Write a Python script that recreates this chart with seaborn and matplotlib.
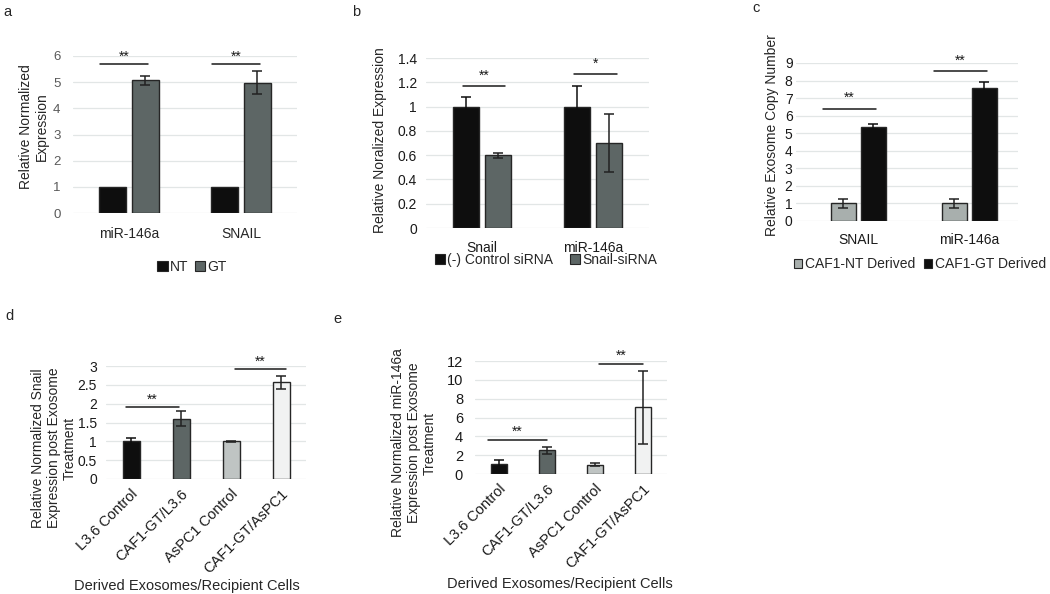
import matplotlib
matplotlib.use("Agg")
import matplotlib.pyplot as plt
import matplotlib.transforms as mtransforms
from matplotlib.patches import Patch
import seaborn as sns
import pandas as pd
import numpy as np

# ---------------- data ----------------
# panel a
a_genes = ["miR-146a", "SNAIL"]
a_groups = ["NT", "GT"]
a_nt = [1.0, 1.0]
a_gt = [5.07, 4.97]
a_nt_err = [0.0, 0.0]
a_gt_err = [0.18, 0.44]
a_sig_y = [5.68, 5.68]
a_sig_txt = ["**", "**"]

# panel b
b_genes = ["Snail", "miR-146a"]
b_groups = ["(-) Control siRNA", "Snail-siRNA"]
b_ctrl = [1.0, 1.0]
b_si = [0.60, 0.70]
b_ctrl_err = [0.08, 0.17]
b_si_err = [0.02, 0.235]
b_sig_y = [1.17, 1.265]
b_sig_txt = ["**", "*"]

# panel c
c_genes = ["SNAIL", "miR-146a"]
c_groups = ["CAF1-NT Derived", "CAF1-GT Derived"]
c_nt = [1.0, 1.0]
c_gt = [5.37, 7.60]
c_nt_err = [0.28, 0.27]
c_gt_err = [0.15, 0.30]
c_sig_y = [6.4, 8.55]
c_sig_txt = ["**", "**"]

# panels d & e
de_cells = ["L3.6 Control", "CAF1-GT/L3.6", "AsPC1 Control", "CAF1-GT/AsPC1"]
d_vals = [1.0, 1.60, 1.0, 2.57]
d_err = [0.08, 0.20, 0.02, 0.17]
d_sig_y = [1.91, 2.91]
e_vals = [1.06, 2.50, 1.0, 7.07]
e_err = [0.40, 0.35, 0.15, 3.90]
e_sig_y = [3.56, 11.65]

# ---------------- style ----------------
W, H = 1050, 594
sns.set_theme(style="white")
plt.rcParams["font.family"] = ["Liberation Sans", "DejaVu Sans"]

BLACK = "#0e0e0e"
DGRAY = "#5d6665"
LGRAY = "#bfc4c3"
VLGRAY = "#f1f2f2"
NTGRAY = "#a8afad"
EDGE = "#262626"
GRID = "#e2e6e6"

fig = plt.figure(figsize=(W / 100, H / 100), dpi=100)


def add_ax(x0, y0, x1, y1):
    return fig.add_axes([x0 / W, 1 - y1 / H, (x1 - x0) / W, (y1 - y0) / H])


def style_ax(ax, ylim, step, tick_color="#1a1a1a", tick_size=9, fmt=None,
             pad=6):
    ax.set_ylim(*ylim)
    ticks = np.arange(ylim[0], ylim[1] + step / 2, step)
    ax.set_yticks(ticks)
    if fmt is not None:
        ax.set_yticklabels([fmt(t) for t in ticks])
    ax.grid(axis="y", color=GRID, linewidth=0.9)
    ax.set_axisbelow(True)
    for s in ax.spines.values():
        s.set_visible(False)
    ax.tick_params(axis="both", length=0)
    ax.tick_params(axis="y", labelsize=tick_size, labelcolor=tick_color, pad=pad)
    ax.set_xlabel("")
    ax.set_ylabel("")


def draw_err(ax, bar, e):
    if e <= 0 or bar.get_height() == 0:
        return
    x = bar.get_x() + bar.get_width() / 2
    fc = bar.get_facecolor()
    dark = sum(fc[:3]) / 3 < 0.15
    col = BLACK if dark else "#222222"
    ax.errorbar(x, bar.get_height(), yerr=e, fmt="none", ecolor=col,
                elinewidth=1.1, capsize=3.5, capthick=1.1, zorder=5)


def add_errs(ax, errs_per_container):
    for cont, errs in zip(ax.containers, errs_per_container):
        for bar, e in zip(cont, errs):
            draw_err(ax, bar, e)


def sig(ax, x0, x1, y, txt, ty, size=10):
    ax.plot([x0, x1], [y, y], color="#1a1a1a", lw=1.1, clip_on=False, zorder=6)
    ax.text((x0 + x1) / 2, ty, txt, ha="center", va="center", fontsize=size,
            color="#1a1a1a", clip_on=False)


def square_legend(ax, labels, colors, cx, cy, colsp=0.8, tp=0.15, hl=0.75):
    handles = [Patch(facecolor=c, edgecolor=EDGE, linewidth=0.8) for c in colors]
    ax.legend(handles, labels, loc="center", bbox_to_anchor=(cx / W, 1 - cy / H),
              bbox_transform=fig.transFigure, ncol=len(labels), frameon=False,
              fontsize=10, handlelength=hl, handleheight=hl,
              handletextpad=tp, columnspacing=colsp, borderpad=0,
              borderaxespad=0)


# ---------------- panel a ----------------
ax = add_ax(73, 56, 297, 213)
df_a = pd.DataFrame({"gene": a_genes * 2,
                     "grp": [a_groups[0]] * 2 + [a_groups[1]] * 2,
                     "val": a_nt + a_gt})
sns.barplot(data=df_a, x="gene", y="val", hue="grp", order=a_genes,
            hue_order=a_groups, palette=[BLACK, DGRAY], saturation=1,
            errorbar=None, width=0.58, gap=0.17, edgecolor=EDGE, linewidth=1,
            legend=False, ax=ax)
ax.set_xlim(-0.5, 1.5)
style_ax(ax, (0, 6), 1, tick_color="#595959", tick_size=9.5, pad=9)
ax.tick_params(axis="x", labelsize=10, pad=10)
add_errs(ax, [a_nt_err, a_gt_err])
for i, (y, t) in enumerate(zip(a_sig_y, a_sig_txt)):
    sig(ax, i - 0.26, i + 0.17, y, t, y + 0.3)
square_legend(ax, a_groups, [BLACK, DGRAY], 192, 267, colsp=0.5)
fig.text(34 / W, 1 - 127 / H, "Relative Normalized\nExpression", rotation=90,
         ha="center", va="center", fontsize=10, linespacing=1.15)
fig.text(3 / W, 1 - 12 / H, "a", fontsize=10.5, ha="left", va="center")

# ---------------- panel b ----------------
ax = add_ax(426, 58, 649, 228)
df_b = pd.DataFrame({"gene": b_genes * 2,
                     "grp": [b_groups[0]] * 2 + [b_groups[1]] * 2,
                     "val": b_ctrl + b_si})
sns.barplot(data=df_b, x="gene", y="val", hue="grp", order=b_genes,
            hue_order=b_groups, palette=[BLACK, DGRAY], saturation=1,
            errorbar=None, width=0.57, gap=0.18, edgecolor=EDGE, linewidth=1,
            legend=False, ax=ax)
ax.set_xlim(-0.5, 1.5)
style_ax(ax, (0, 1.4), 0.2, tick_size=10,
         fmt=lambda t: ("%g" % round(t, 1)), pad=6.5)
ax.tick_params(axis="x", labelsize=10, pad=9, labelcolor="#1a1a1a")
add_errs(ax, [b_ctrl_err, b_si_err])
for i, (y, t) in enumerate(zip(b_sig_y, b_sig_txt)):
    sig(ax, i - 0.17, i + 0.21, y, t, y + 0.085)
square_legend(ax, b_groups, [BLACK, DGRAY], 546, 260, colsp=1.2)
fig.text(380 / W, 1 - 140 / H, "Relative Noralized Expression", rotation=90,
         ha="center", va="center", fontsize=10)
fig.text(352 / W, 1 - 12 / H, "b", fontsize=10.5, ha="left", va="center")

# ---------------- panel c ----------------
ax = add_ax(796, 63, 1018, 221)
df_c = pd.DataFrame({"gene": c_genes * 2,
                     "grp": [c_groups[0]] * 2 + [c_groups[1]] * 2,
                     "val": c_nt + c_gt})
sns.barplot(data=df_c, x="gene", y="val", hue="grp", order=c_genes,
            hue_order=c_groups, palette=[NTGRAY, BLACK], saturation=1,
            errorbar=None, width=0.54, gap=0.17, edgecolor=EDGE, linewidth=1,
            legend=False, ax=ax)
ax.set_xlim(-0.56, 1.44)
style_ax(ax, (0, 9), 1, tick_size=10, pad=2.5)
ax.tick_params(axis="x", labelsize=10, pad=9, labelcolor="#1a1a1a")
add_errs(ax, [c_nt_err, c_gt_err])
for i, (y, t) in enumerate(zip(c_sig_y, c_sig_txt)):
    sig(ax, i - 0.32, i + 0.16, y, t, y + 0.6)
square_legend(ax, c_groups, [NTGRAY, BLACK], 920, 264, colsp=0.6, tp=0.2,
              hl=0.6)
fig.text(772 / W, 1 - 135 / H, "Relative Exosome Copy Number", rotation=90,
         ha="center", va="center", fontsize=10)
fig.text(752 / W, 1 - 8 / H, "c", fontsize=10.5, ha="left", va="center")

# ---------------- panels d & e ----------------
de_palette = [BLACK, DGRAY, LGRAY, VLGRAY]


def panel_de(rect, vals, errs, ylim, step, sig_ys, sig_x, star_dy, ylabel,
             ylabel_xy, xlabel_xy, letter, letter_xy, fmt=None, ypad=8,
             tsize=10.5):
    ax = add_ax(*rect)
    df = pd.DataFrame({"cell": de_cells, "val": vals})
    sns.barplot(data=df, x="cell", y="val", hue="cell", order=de_cells,
                hue_order=de_cells, palette=de_palette, saturation=1,
                errorbar=None, width=0.34, edgecolor=EDGE, linewidth=1,
                legend=False, dodge=False, ax=ax)
    ax.set_xlim(-0.5, 3.5)
    style_ax(ax, ylim, step, tick_size=tsize, fmt=fmt, pad=ypad)
    ax.tick_params(axis="x", labelsize=10.5, pad=9, labelcolor="#1a1a1a")
    offset = mtransforms.ScaledTranslation(5 / 100, 0, fig.dpi_scale_trans)
    for lab in ax.get_xticklabels():
        lab.set_rotation(45)
        lab.set_ha("right")
        lab.set_va("center")
        lab.set_rotation_mode("anchor")
        lab.set_transform(lab.get_transform() + offset)
    for cont, e in zip(ax.containers, errs):
        for bar in cont:
            draw_err(ax, bar, e)
    for (x0, x1), y in zip(sig_x, sig_ys):
        sig(ax, x0, x1, y, "**", y + star_dy)
    fig.text(ylabel_xy[0] / W, 1 - ylabel_xy[1] / H, ylabel, rotation=90,
             ha="center", va="center", fontsize=10, linespacing=1.2)
    fig.text(xlabel_xy[0] / W, 1 - xlabel_xy[1] / H,
             "Derived Exosomes/Recipient Cells", ha="center", va="center",
             fontsize=10.5)
    fig.text(letter_xy[0] / W, 1 - letter_xy[1] / H, letter, fontsize=10.5,
             ha="left", va="center")
    return ax


panel_de((106, 366, 306, 479), d_vals, d_err, (0, 3), 0.5, d_sig_y,
         [(-0.1, 0.96), (2.08, 3.1)], 0.2,
         "Relative Normalized Snail\nExpression post Exosome\nTreatment",
         (54, 448), (187, 586), "d", (5, 316),
         fmt=lambda t: "%g" % t, ypad=6.5, tsize=10)
panel_de((475, 361, 667, 474), e_vals, e_err, (0, 12), 2, e_sig_y,
         [(-0.23, 1.0), (2.08, 3.0)], 0.95,
         "Relative Normalized miR-146a\nExpression post Exosome\nTreatment",
         (414, 443), (560, 584), "e", (333, 319),
         fmt=lambda t: "%g" % t, ypad=8.6, tsize=10.5)

fig.savefig("out.png", dpi=100)
